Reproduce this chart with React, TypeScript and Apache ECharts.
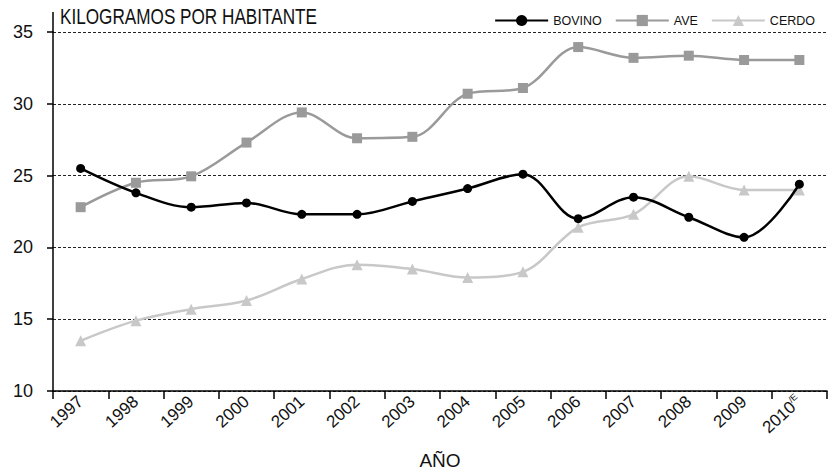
import React, { useEffect, useRef } from "react";
import * as echarts from "echarts";

const years = ["1997", "1998", "1999", "2000", "2001", "2002", "2003", "2004", "2005", "2006", "2007", "2008", "2009", "2010"];
const bovino = [25.5, 23.8, 22.8, 23.1, 22.3, 22.3, 23.2, 24.1, 25.1, 22.0, 23.5, 22.1, 20.7, 24.4];
const ave = [22.8, 24.5, 24.95, 27.3, 29.4, 27.6, 27.7, 30.7, 31.1, 33.95, 33.2, 33.35, 33.05, 33.05];
const cerdo = [13.5, 14.9, 15.7, 16.3, 17.8, 18.8, 18.5, 17.9, 18.3, 21.4, 22.3, 24.95, 24.0, 24.0];
const yTicks = { min: 10, max: 35, interval: 5 };

const SANS = "'Liberation Sans', Arial, sans-serif";

export default function App() {
  const ref = useRef<HTMLDivElement>(null);
  useEffect(() => {
    if (!ref.current) return;
    const chart = echarts.init(ref.current, undefined, { renderer: "svg" });
    const lastIdx = years.length - 1;
    chart.setOption({
      animation: false,
      backgroundColor: "#ffffff",
      grid: { left: 53, right: 11, top: 32, bottom: 85, containLabel: false },
      legend: {
        right: 18,
        top: 9,
        itemWidth: 53,
        itemHeight: 14,
        itemGap: 13,
        textStyle: { fontFamily: SANS, fontSize: 12.5, color: "#111" },
        data: ["BOVINO", "AVE", "CERDO"],
      },
      graphic: [
        {
          type: "line",
          shape: { x1: 53, y1: 12, x2: 53, y2: 32 },
          style: { stroke: "#000", lineWidth: 1.5 },
        },
        {
          type: "text",
          x: 60,
          y: 5,
          scaleX: 0.78,
          style: { text: "KILOGRAMOS POR HABITANTE", fontFamily: SANS, fontSize: 22, fill: "#111" },
        },
      ],
      xAxis: {
        type: "category",
        data: years,
        boundaryGap: true,
        name: "AÑO",
        nameLocation: "middle",
        nameGap: 60,
        nameTextStyle: { fontFamily: SANS, fontSize: 19, color: "#111" },
        axisLine: { lineStyle: { color: "#000", width: 1.5 } },
        axisTick: { show: true, length: 8, lineStyle: { color: "#000", width: 1.5 }, alignWithLabel: false },
        axisLabel: {
          rotate: 42,
          margin: 8,
          fontFamily: SANS,
          fontSize: 17,
          color: "#111",
          interval: 0,
          formatter: (v: string, i: number) => (i === lastIdx ? `{y|${v}}{e|/E}` : `{y|${v}}`),
          rich: {
            y: { fontFamily: SANS, fontSize: 17, color: "#111" },
            e: { fontFamily: SANS, fontSize: 9, color: "#111", padding: [0, 0, 10, 0] },
          },
        },
        splitLine: { show: false },
      },
      yAxis: {
        type: "value",
        min: yTicks.min,
        max: yTicks.max,
        interval: yTicks.interval,
        axisLine: { show: true, lineStyle: { color: "#000", width: 1.5 } },
        axisTick: { show: true, length: 6, lineStyle: { color: "#000", width: 1.5 } },
        axisLabel: { margin: 20, fontFamily: SANS, fontSize: 18, color: "#111" },
        splitLine: { show: true, lineStyle: { color: "#222", type: [3, 2], width: 1 } },
      },
      series: [
        {
          name: "BOVINO",
          type: "line",
          data: bovino,
          smooth: 0.35,
          symbol: "circle",
          symbolSize: 9,
          z: 5,
          itemStyle: { color: "#000" },
          lineStyle: { color: "#000", width: 2.5 },
        },
        {
          name: "AVE",
          type: "line",
          data: ave,
          smooth: 0.35,
          symbol: "rect",
          symbolSize: 10,
          z: 4,
          itemStyle: { color: "#9a9a9a" },
          lineStyle: { color: "#9a9a9a", width: 2.5 },
        },
        {
          name: "CERDO",
          type: "line",
          data: cerdo,
          smooth: 0.35,
          symbol: "triangle",
          symbolSize: 11,
          z: 3,
          itemStyle: { color: "#c8c8c8" },
          lineStyle: { color: "#c8c8c8", width: 2.5 },
        },
      ],
    });
    return () => chart.dispose();
  }, []);
  return <div ref={ref} style={{ position: "fixed", left: 0, top: 0, width: 838, height: 476 }} />;
}
